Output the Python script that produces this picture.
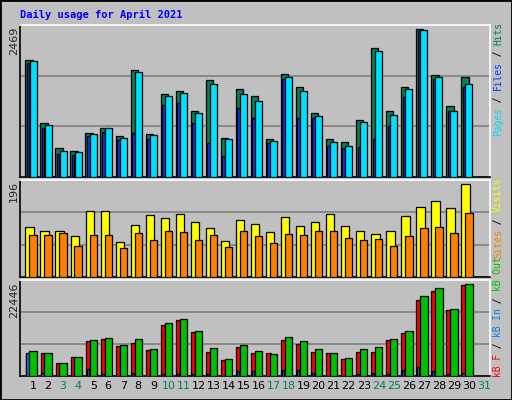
import numpy as np, pandas as pd, seaborn as sns, matplotlib
matplotlib.use("Agg")
import matplotlib.pyplot as plt
from matplotlib.patches import Rectangle

days = list(range(1, 32))
hits = [1952,908,479,441,740,824,692,1782,725,1376,1442,1098,1610,657,1475,1344,629,1716,1498,1075,629,581,948,2150,1098,1498,2469,1693,1181,1665,0]
files = [1927,875,441,423,725,809,657,1744,707,1359,1409,1075,1559,641,1392,1275,608,1660,1427,1024,591,525,925,2094,1042,1460,2446,1660,1108,1544,0]
pages = [1894,824,390,373,692,758,624,740,641,1209,1242,908,573,357,1143,976,573,1627,991,991,525,489,507,641,857,1326,2428,1627,1093,1493,0]
visits = [105,98,98,86,139,139,73,109,130,124,132,117,103,75,120,111,94,126,107,115,132,107,96,90,96,128,147,160,145,196,0]
sites = [88,88,92,66,88,88,62,92,77,96,94,79,88,64,96,86,71,90,88,96,96,83,79,81,66,86,103,105,92,134,0]
kb_out = [5980,5735,3277,4751,8683,9175,7455,8929,6471,12861,13844,10895,6717,4260,7455,5980,5489,9420,8438,6471,5735,4505,6471,6963,8929,10895,19496,21462,16299,22446,0]
kb_f = [5005,5499,3277,4751,8440,8933,7205,7946,6464,12367,13602,10639,5971,4018,6958,5499,5499,8686,7699,5971,5499,4265,5971,5971,8686,10415,18518,20718,16049,22199,0]
kb_in = [5499,673,112,112,1796,449,112,786,112,449,449,449,449,112,1235,1122,112,1571,1347,786,112,112,561,786,561,1347,2245,1122,561,786,0]
weekend = {3,4,10,11,17,18,24,25,31}

sns.set_theme(style="white")
plt.rcParams['font.family'] = ['DejaVu Sans']
BG = "#C0C0C0"
fig = plt.figure(figsize=(5.12, 4.0), dpi=100, facecolor=BG)
fig.patches.append(Rectangle((0, 0), 1, 1, transform=fig.transFigure, fill=False, ec="black", lw=2))

W, H = 512, 400
def mkax(top, bot):
    return fig.add_axes([20/W, 1-bot/H, 470/W, (bot-top)/H], facecolor=BG)
ax1 = mkax(25, 177); ax2 = mkax(180, 277); ax3 = mkax(280, 376)

d = np.array(days, dtype=float)
def bars(ax, vals, off, width, color):
    df = pd.DataFrame({"x": d + off, "y": vals})
    sns.barplot(data=df, x="x", y="y", native_scale=True, width=width, color=color,
                edgecolor="black", linewidth=0.9, saturation=1, ax=ax, zorder=3)

bars(ax1, hits, -0.27, 0.49, "#00805C")
bars(ax1, pages, -0.33, 0.17, "#0040FF")
bars(ax1, files, 0.0, 0.47, "#00E0FF")
bars(ax2, visits, -0.23, 0.56, "#FFFF00")
bars(ax2, sites, 0.0, 0.49, "#FF8000")
bars(ax3, kb_f, -0.35, 0.30, "#FF0000")
bars(ax3, kb_in, -0.37, 0.15, "#0080FF")
bars(ax3, kb_out, 0.0, 0.49, "#00C000")

for ax, top in [(ax1, 2535), (ax2, 204.5), (ax3, 23430)]:
    ax.set_xlim(0.13, 31.4); ax.set_ylim(0, top)
    ax.set_yticks([top/3, 2*top/3]); ax.set_yticklabels([])
    ax.yaxis.grid(True, color="#808080", lw=1.2, zorder=0)
    ax.set_xlabel(""); ax.set_ylabel("")
    ax.tick_params(length=0)
    for s in ["left", "bottom"]:
        ax.spines[s].set_color("black")
    for s in ["top", "right"]:
        ax.spines[s].set_color("white")
    for s in ax.spines.values():
        s.set_linewidth(1.2)
ax1.set_xticks([]); ax2.set_xticks([])
ax3.set_xticks(days)
ax3.set_xticklabels([str(x) for x in days], fontsize=8)
for lab, dd in zip(ax3.get_xticklabels(), days):
    lab.set_color("#00805C" if dd in weekend else "black")

fig.text(20/W, 1-15/H, "Daily usage for April 2021", family="DejaVu Sans Mono",
         weight="bold", color="#0000FF", fontsize=7.5, va="center")
for val, top in [("2469", 27), ("196", 181), ("22446", 282)]:
    fig.text(14/W, 1-top/H, val, rotation=90, fontsize=8, va="top", ha="center")

CH = 5.7
def vlegend(parts, ystart):
    y = ystart
    for txt, col in parts:
        fig.text(498/W, 1-y/H, txt, rotation=90, family="DejaVu Sans Mono",
                 fontsize=6.9, color=col, va="bottom", ha="center")
        y -= CH*len(txt)
vlegend([("Pages", "#00E0FF"), (" / ", "black"), ("Files", "#0040FF"), (" / ", "black"), ("Hits", "#00805C")], 136)
vlegend([("Sites", "#FF8000"), (" / ", "black"), ("Visits", "#FFFF00")], 258)
vlegend([("kB F", "#FF0000"), (" / ", "black"), ("kB In", "#0080FF"), (" / ", "black"), ("kB Out", "#00C000")], 377)

fig.savefig("out.png", dpi=100, facecolor=BG)
